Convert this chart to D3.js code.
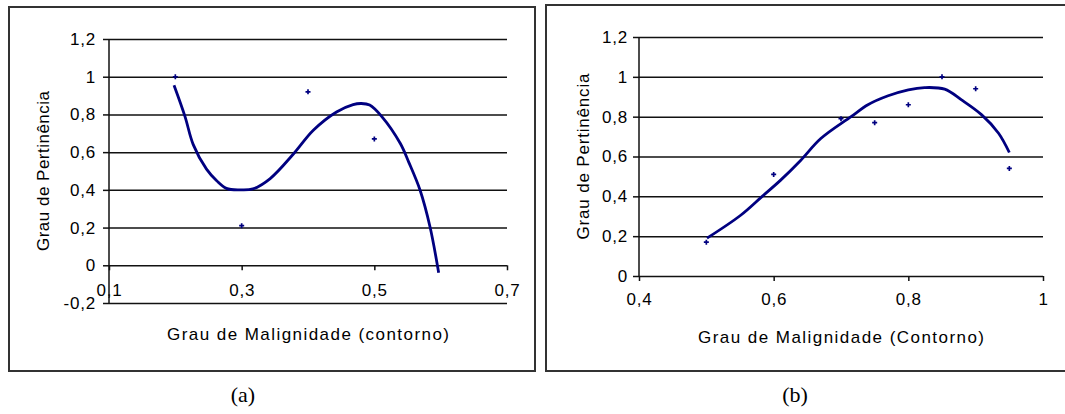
<!DOCTYPE html>
<html>
<head>
<meta charset="utf-8">
<script src="https://cdn.jsdelivr.net/npm/d3@7"></script>
<style>
  body { margin: 0; background: #fff; }
  text { font-family: "Liberation Sans", Arial, sans-serif; fill: #000; }
</style>
</head>
<body>
<div id="chart"></div>
<script>
// ---- data ----
// (a) membership vs malignancy (contorno)
const ptsAx = [0.2, 0.3, 0.4, 0.5];
const ptsAy = [1.0, 0.21, 0.92, 0.67];
const trendAx = [0.198, 0.2145, 0.227, 0.247, 0.262, 0.277, 0.297, 0.317, 0.343, 0.378, 0.408,
                 0.443, 0.468, 0.48, 0.493, 0.511, 0.539, 0.552, 0.569, 0.584, 0.597];
const trendAy = [0.955, 0.79, 0.64, 0.51, 0.45, 0.408, 0.4, 0.405, 0.46, 0.59, 0.716,
                 0.813, 0.852, 0.858, 0.85, 0.79, 0.647, 0.546, 0.398, 0.203, -0.04];
const xTicksA = [0.1, 0.3, 0.5, 0.7];
const yTicksA = [-0.2, 0, 0.2, 0.4, 0.6, 0.8, 1, 1.2];

// (b) membership vs malignancy (Contorno)
const ptsBx = [0.5, 0.6, 0.7, 0.75, 0.8, 0.85, 0.9, 0.95];
const ptsBy = [0.17, 0.51, 0.79, 0.77, 0.86, 1.0, 0.94, 0.54];
const trendBx = [0.501, 0.551, 0.583, 0.61, 0.64, 0.67, 0.715, 0.74, 0.77, 0.8, 0.824,
                 0.854, 0.879, 0.909, 0.934, 0.95];
const trendBy = [0.19, 0.305, 0.4, 0.48, 0.58, 0.69, 0.8, 0.86, 0.905, 0.935, 0.946,
                 0.938, 0.884, 0.809, 0.717, 0.62];
const xTicksB = [0.4, 0.6, 0.8, 1];
const yTicksB = [0, 0.2, 0.4, 0.6, 0.8, 1, 1.2];

const navy = "#000080";
const fmt = d => String(d).replace(".", ",");

const svg = d3.select("#chart")
  .append("svg")
    .attr("width", 1065)
    .attr("height", 414);

// draw one panel
function drawPanel(cfg) {
  const g = svg.append("g");

  // outer frame
  g.append("rect")
    .attr("x", cfg.box[0]).attr("y", cfg.box[1])
    .attr("width", cfg.box[2]).attr("height", cfg.box[3])
    .attr("fill", "none").attr("stroke", "#333").attr("stroke-width", 2);

  const x = d3.scaleLinear().domain(cfg.xDomain).range(cfg.xRange);
  const y = d3.scaleLinear().domain(cfg.yDomain).range(cfg.yRange);

  // gridlines + y ticks
  g.append("g")
    .attr("transform", "translate(" + cfg.xRange[0] + ",0)")
    .call(d3.axisLeft(y).tickValues(cfg.yTicks).tickSize(6).tickFormat(fmt))
    .call(a => a.select(".domain").remove())
    .call(a => a.selectAll(".tick line").attr("stroke", "#111").attr("stroke-width", 1.5))
    .call(a => a.selectAll(".tick text")
      .attr("x", cfg.yLabelX - cfg.xRange[0])
      .attr("font-size", 17).attr("letter-spacing", 0.8))
    .call(a => a.selectAll(".tick").append("line")
      .attr("x1", 0).attr("x2", cfg.xRange[1] - cfg.xRange[0])
      .attr("stroke", "#111").attr("stroke-width", 1.5));

  // x axis (sits at y = 0)
  g.append("g")
    .attr("transform", "translate(0," + y(0) + ")")
    .call(d3.axisBottom(x).tickValues(cfg.xTicks).tickSize(5).tickFormat(fmt))
    .call(a => a.select(".domain").remove())
    .call(a => a.selectAll(".tick line").attr("stroke", "#111").attr("stroke-width", 1.5))
    .call(a => a.selectAll(".tick text")
      .attr("y", cfg.xLabelY - y(0)).attr("dy", "0.35em")
      .attr("font-size", 17).attr("letter-spacing", 0.8));

  // y axis line, drawn over the tick labels (as in the original)
  g.append("line")
    .attr("x1", cfg.xRange[0]).attr("x2", cfg.xRange[0])
    .attr("y1", cfg.yRange[0]).attr("y2", cfg.yRange[1])
    .attr("stroke", "#111").attr("stroke-width", 1.5);

  // trend line
  const trend = cfg.tx.map((d, i) => [d, cfg.ty[i]]);
  g.append("path")
    .datum(trend)
    .attr("fill", "none")
    .attr("stroke", navy)
    .attr("stroke-width", 2.8)
    .attr("d", d3.line()
      .x(d => x(d[0]))
      .y(d => y(d[1]))
      .curve(d3.curveCatmullRom.alpha(0.5)));

  // data points
  g.append("g")
    .selectAll("path")
    .data(cfg.px.map((d, i) => [d, cfg.py[i]]))
    .enter()
    .append("path")
      .attr("transform", d => "translate(" + x(d[0]) + "," + y(d[1]) + ")")
      .attr("d", d3.symbol().type(d3.symbolCross).size(14))
      .attr("fill", navy);

  // axis titles
  g.append("text")
    .attr("x", (cfg.xRange[0] + cfg.xRange[1]) / 2)
    .attr("y", cfg.xTitleY)
    .attr("dy", "0.35em")
    .attr("text-anchor", "middle")
    .attr("font-size", 17)
    .attr("textLength", cfg.xTitleLen)
    .attr("lengthAdjust", "spacing")
    .text(cfg.xTitle);

  g.append("text")
    .attr("transform", "translate(" + cfg.yTitleX + "," + ((cfg.yRange[0] + cfg.yRange[1]) / 2) + ") rotate(-90)")
    .attr("dy", "0.35em")
    .attr("text-anchor", "middle")
    .attr("font-size", 17)
    .attr("textLength", cfg.yTitleLen)
    .attr("lengthAdjust", "spacing")
    .text("Grau de Pertinência");

  // caption
  svg.append("text")
    .attr("x", cfg.capX).attr("y", 394)
    .attr("dy", "0.35em")
    .attr("text-anchor", "middle")
    .style("font-family", "'Liberation Serif', 'Times New Roman', serif")
    .attr("font-size", 22)
    .text(cfg.caption);
}

drawPanel({
  box: [9, 7, 526, 364],
  xDomain: [0.1, 0.7], xRange: [109, 507],
  yDomain: [-0.2, 1.2], yRange: [303, 39],
  xTicks: xTicksA, yTicks: yTicksA,
  yLabelX: 96, xLabelY: 290,
  tx: trendAx, ty: trendAy, px: ptsAx, py: ptsAy,
  xTitle: "Grau de Malignidade (contorno)", xTitleY: 334, xTitleLen: 282,
  yTitleX: 43, yTitleLen: 160,
  capX: 243, caption: "(a)"
});

drawPanel({
  box: [546, 5, 530, 366],
  xDomain: [0.4, 1.0], xRange: [639, 1043],
  yDomain: [0, 1.2], yRange: [276, 37],
  xTicks: xTicksB, yTicks: yTicksB,
  yLabelX: 628, xLabelY: 299,
  tx: trendBx, ty: trendBy, px: ptsBx, py: ptsBy,
  xTitle: "Grau de Malignidade (Contorno)", xTitleY: 337, xTitleLen: 286,
  yTitleX: 583, yTitleLen: 166,
  capX: 795, caption: "(b)"
});
</script>
</body>
</html>
